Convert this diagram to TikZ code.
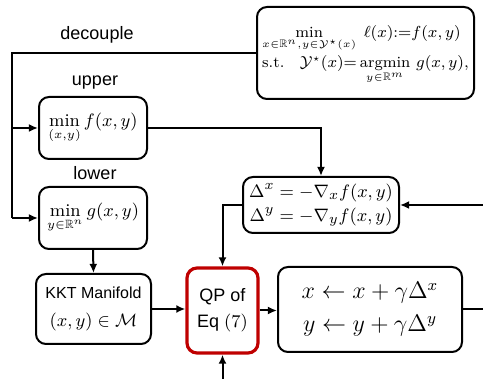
\documentclass[tikz,border=0pt]{standalone}
\usepackage{amsmath,amssymb}
\usepackage{fontspec}
\setsansfont{Liberation Sans}
\usetikzlibrary{arrows.meta}

\begin{document}
\begin{tikzpicture}[
    x=0.5pt,y=-0.5pt,
    block/.style={draw=black,line width=1pt,rounded corners=5pt,fill=white,inner sep=1pt,align=center},
    qpblock/.style={block,draw=red!75!black,line width=1.6pt},
    link/.style={line width=1pt},
    flow/.style={-{Latex[length=1.6mm,width=1.4mm]},line width=1pt},
    tag/.style={font=\sffamily\fontsize{9}{11}\selectfont}
]
\useasboundingbox (0,0) rectangle (483,379);

\node[block,minimum width=108.5pt,minimum height=46pt,font=\fontsize{7.8}{11}\selectfont] (prob) at (365.5,53)
{$\begin{array}{@{}l@{}}
\min\limits_{x\in\mathbb{R}^n,y\in\mathcal{Y}^\star(x)}\; \ell(x){:=}f(x,y)\\[2pt]
\text{s.t.}\quad \mathcal{Y}^\star(x){=}\mathop{\mathrm{argmin}}\limits_{y\in\mathbb{R}^m}\, g(x,y),
\end{array}$};
\node[block,minimum width=54pt,minimum height=31pt,font=\fontsize{9}{11}\selectfont] (upper) at (93,128) {$\min\limits_{(x,y)} f(x,y)$};
\node[block,minimum width=54pt,minimum height=31pt,font=\fontsize{9}{11}\selectfont] (lower) at (93,218) {$\min\limits_{y\in\mathbb{R}^n} g(x,y)$};
\node[block,minimum width=57.5pt,minimum height=35pt,font=\sffamily\fontsize{8}{14}\selectfont] (kkt) at (93.5,309)
{KKT Manifold\\ \fontsize{9}{11}\selectfont$(x,y)\in\mathcal{M}$};
\node[qpblock,minimum width=35.5pt,minimum height=42.5pt,font=\sffamily\fontsize{9}{13}\selectfont] (qp) at (222.5,310.5)
{QP of\\ Eq $(7)$};
\node[block,minimum width=92pt,minimum height=42.5pt,font=\fontsize{11.5}{16.5}\selectfont] (upd) at (370,309.5)
{$x\leftarrow x+\gamma\Delta^x$\\ $y\leftarrow y+\gamma\Delta^y$};
\node[block,minimum width=78pt,minimum height=28pt,font=\fontsize{9.5}{12}\selectfont] (grad) at (321,205)
{$\Delta^x=-\nabla_x f(x,y)$\\ $\Delta^y=-\nabla_y f(x,y)$};

\node[tag] (declbl) at (97,35) {decouple};
\node[tag] (uplbl) at (95,83) {upper};
\node[tag] (lowlbl) at (95,173) {lower};

\coordinate (bend) at (12,218);
\coordinate (outR) at (483,309.5);
\coordinate (inR) at (483,205);
\coordinate (inB) at (222.5,379);

\draw[link] (prob.west) -| (bend);
\draw[flow] (bend |- upper.west) -- (upper.west);
\draw[flow] (bend) -- (lower.west);
\draw[flow] (upper.east) -| (grad.north);
\draw[flow] (lower.south) -- (kkt.north);
\draw[flow] (kkt.east) -- (kkt.east -| qp.west);
\draw[flow] (qp.east) -- (qp.east -| upd.west);
\draw[link] (upd.east) -- (outR);
\draw[flow] (inR) -- (grad.east);
\draw[flow] (grad.west) -| (qp.north);
\draw[flow] (inB) -- (qp.south);
\end{tikzpicture}
\end{document}
